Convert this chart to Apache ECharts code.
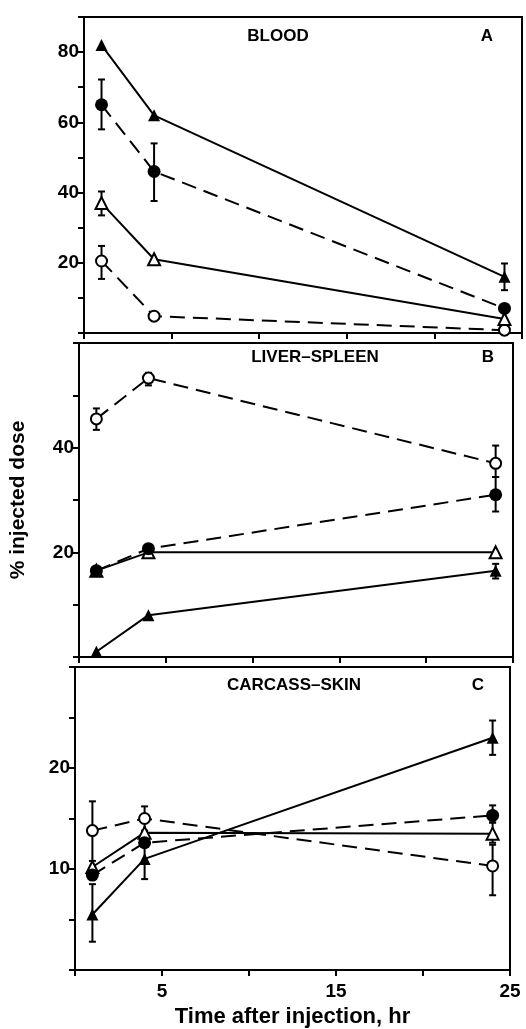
<!DOCTYPE html>
<html>
<head>
<meta charset="utf-8">
<script src="https://cdn.jsdelivr.net/npm/echarts@6/dist/echarts.min.js"></script>
<style>
html, body { margin: 0; padding: 0; background: #fff; }
#J_Chart { width: 526px; height: 1029px; }
</style>
</head>
<body>
<div id="J_Chart"></div>
<script>
var hours = [1, 4, 24];
var xLabels = [5, 15, 25];

// A - blood
var bloodFTri = [82, 62, 16];
var bloodFDot = [65, 46, 7];
var bloodOTri = [37, 21, 4];
var bloodODot = [20.5, 4.8, 0.8];
var bloodErr = [[24, 12.2, 19.8], [1, 58, 72.2], [4, 37.6, 54], [1, 33.5, 40.3], [1, 15.4, 24.8]];
var bloodLabels = [20, 40, 60, 80];

// B - liver-spleen
var liverFTri = [1, 8, 16.5];
var liverFDot = [16.5, 20.7, 31];
var liverOTri = [16.5, 20, 20];
var liverODot = [45.5, 53.3, 37];
var liverErr = [[24, 15, 17.8], [24, 27.8, 34.4], [1, 43.4, 47.5], [4, 51.9, 54.3], [24, 34.4, 40.4]];
var liverLabels = [20, 40];

// C - carcass-skin
var carcFTri = [5.5, 11, 23];
var carcFDot = [9.4, 12.6, 15.3];
var carcOTri = [10.2, 13.6, 13.5];
var carcODot = [13.8, 15, 10.3];
var carcErr = [[1, 2.8, 8.5], [4, 9, 13.2], [24, 21.3, 24.7], [24, 14.6, 16.3], [24, 12.6, 14.6],
    [1, 10.8, 16.7], [4, 13.8, 16.2], [24, 7.4, 12.4]];
var carcLabels = [10, 20];

// rows are drawn open ones first so the filled marks sit on top
var panels = [
    {title: 'BLOOD', tag: 'A', max: 90, step: 10, labels: bloodLabels,
        rows: [bloodODot, bloodOTri, bloodFDot, bloodFTri], err: bloodErr,
        left: 84, right: 4, top: 17, height: 316, tx: 278, ty: 36, ax: 487},
    {title: 'LIVER–SPLEEN', tag: 'B', max: 60, step: 10, labels: liverLabels,
        rows: [liverODot, liverOTri, liverFDot, liverFTri], err: liverErr,
        left: 79, right: 13, top: 343, height: 314, tx: 315, ty: 357, ax: 488},
    {title: 'CARCASS–SKIN', tag: 'C', max: 30, step: 5, labels: carcLabels,
        rows: [carcODot, carcOTri, carcFDot, carcFTri], err: carcErr,
        left: 75, right: 16, top: 667, height: 303, tx: 294, ty: 685, ax: 478}
];

var symbols = ['emptyCircle', 'emptyTriangle', 'circle', 'triangle'];
var sizes = [11, 12, 13, 12];
var dashes = [[15, 8], 'solid', [15, 8], 'solid'];
var font = '"Liberation Sans", Arial, sans-serif';

function renderErr(params, api) {
    var lo = api.coord([api.value(0), api.value(1)]);
    var hi = api.coord([api.value(0), api.value(2)]);
    var w = 3.5;
    var st = {stroke: '#000', lineWidth: 2};
    return {
        type: 'group',
        children: [
            {type: 'line', shape: {x1: lo[0], y1: lo[1], x2: hi[0], y2: hi[1]}, style: st},
            {type: 'line', shape: {x1: lo[0] - w, y1: lo[1], x2: lo[0] + w, y2: lo[1]}, style: st},
            {type: 'line', shape: {x1: hi[0] - w, y1: hi[1], x2: hi[0] + w, y2: hi[1]}, style: st}
        ]
    };
}

var grid = [], xAxis = [], yAxis = [], series = [], graphic = [];

panels.forEach(function(p, i) {
    var last = i === panels.length - 1;
    grid.push({left: p.left, right: p.right, top: p.top, height: p.height,
        show: true, borderColor: '#000', borderWidth: 2});
    xAxis.push({
        type: 'value', gridIndex: i, min: 0, max: 25, interval: 5,
        axisLine: {lineStyle: {color: '#000', width: 2}},
        axisTick: {length: 6, lineStyle: {color: '#000', width: 2}},
        splitLine: {show: false},
        axisLabel: {
            show: last, margin: 12, color: '#000', fontSize: 19, fontWeight: 'bold', fontFamily: font,
            formatter: function(v) { return xLabels.indexOf(v) >= 0 ? String(v) : ''; }
        },
        name: last ? 'Time after injection, hr' : '',
        nameLocation: 'middle', nameGap: 36,
        nameTextStyle: {color: '#000', fontSize: 22, fontWeight: 'bold', fontFamily: font}
    });
    yAxis.push({
        type: 'value', gridIndex: i, min: 0, max: p.max, interval: p.step,
        axisLine: {show: true, lineStyle: {color: '#000', width: 2}},
        axisTick: {show: true, length: 6, lineStyle: {color: '#000', width: 2}},
        splitLine: {show: false},
        axisLabel: {
            margin: 5, color: '#000', fontSize: 19, fontWeight: 'bold', fontFamily: font,
            formatter: (function(labs) {
                return function(v) { return labs.indexOf(v) >= 0 ? String(v) : ''; };
            })(p.labels)
        },
        name: i === 1 ? '% injected dose' : '',
        nameLocation: 'middle', nameGap: 50,
        nameTextStyle: {color: '#000', fontSize: 21, fontWeight: 'bold', fontFamily: font}
    });
    series.push({
        type: 'custom', xAxisIndex: i, yAxisIndex: i, renderItem: renderErr,
        encode: {x: 0, y: [1, 2]}, data: p.err, z: 1, silent: true
    });
    p.rows.forEach(function(vals, k) {
        series.push({
            type: 'line', xAxisIndex: i, yAxisIndex: i, z: 3,
            data: hours.map(function(h, j) { return [h, vals[j]]; }),
            symbol: symbols[k], symbolSize: sizes[k],
            itemStyle: {color: '#000', borderColor: '#000', borderWidth: k < 2 ? 2 : 0},
            lineStyle: {color: '#000', width: 2, type: dashes[k]}
        });
    });
    graphic.push({type: 'text', x: p.tx, y: p.ty,
        style: {text: p.title, fill: '#000', font: 'bold 17px ' + font, align: 'center', verticalAlign: 'middle'}});
    graphic.push({type: 'text', x: p.ax, y: p.ty,
        style: {text: p.tag, fill: '#000', font: 'bold 17px ' + font, align: 'center', verticalAlign: 'middle'}});
});

var myChart = echarts.init(document.getElementById('J_Chart'));
myChart.setOption({
    backgroundColor: '#fff',
    animation: false,
    grid: grid,
    xAxis: xAxis,
    yAxis: yAxis,
    series: series,
    graphic: graphic
});
</script>
</body>
</html>
